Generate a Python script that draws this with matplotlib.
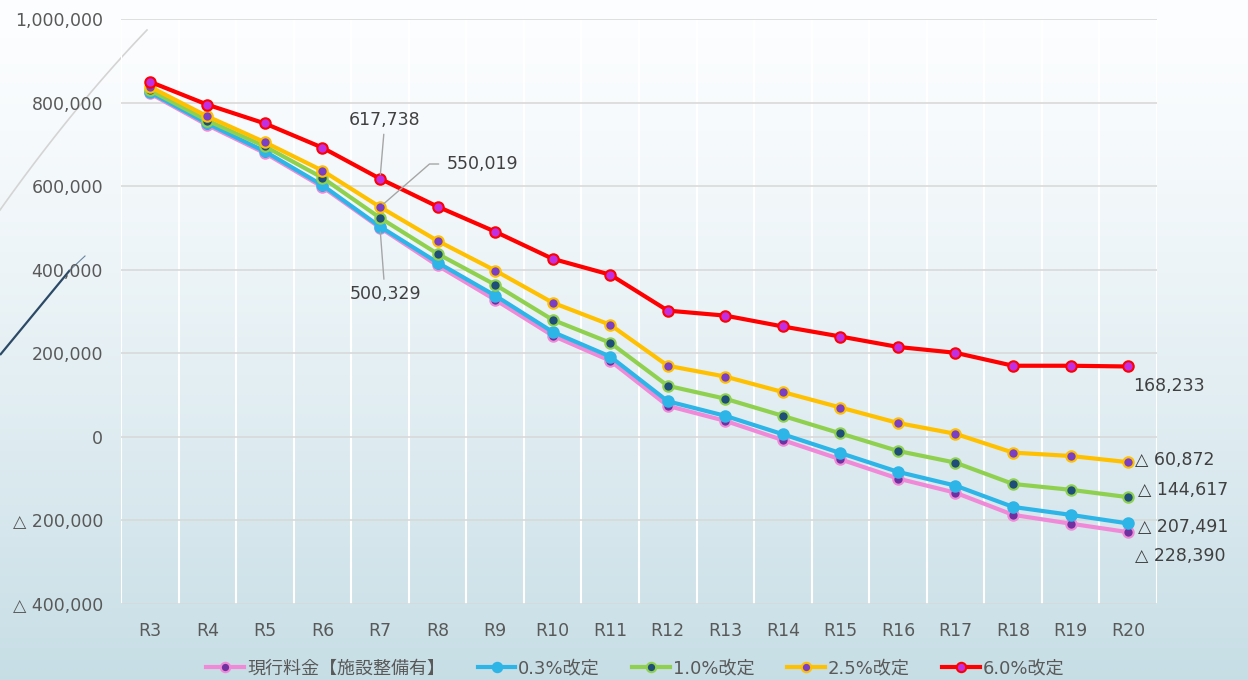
import matplotlib
matplotlib.use('Agg')
import matplotlib.pyplot as plt
import numpy as np
from matplotlib.ticker import FuncFormatter

plt.rcParams['font.family'] = ['DejaVu Sans', 'Noto Sans CJK JP']

categories = ['R3', 'R4', 'R5', 'R6', 'R7', 'R8', 'R9', 'R10', 'R11', 'R12',
              'R13', 'R14', 'R15', 'R16', 'R17', 'R18', 'R19', 'R20']

current = [822000, 746000, 679000, 598000, 500329, 410000, 328000, 242000, 182000,
           74000, 38000, -8000, -54000, -100000, -134000, -187000, -208000, -228390]
rate03 = [825000, 750000, 683000, 602000, 503000, 417000, 338000, 251000, 192000,
          85000, 50000, 6000, -39000, -84000, -117000, -168000, -187000, -207491]
rate10 = [830000, 757000, 695000, 620000, 524000, 438000, 364000, 280000, 225000,
          122000, 91000, 50000, 8000, -34000, -62000, -113000, -127000, -144617]
rate25 = [838000, 767000, 705000, 637000, 550019, 469000, 398000, 321000, 268000,
          170000, 144000, 107000, 70000, 33000, 7000, -38000, -46000, -60872]
rate60 = [850000, 795000, 750000, 692000, 617738, 551000, 491000, 426000, 388000,
          302000, 290000, 264000, 240000, 215000, 201000, 170000, 170000, 168233]

series_names = ['現行料金【施設整備有】', '0.3%改定', '1.0%改定', '2.5%改定', '6.0%改定']
series_values = [current, rate03, rate10, rate25, rate60]
line_colors = ['#f08ad8', '#2db5e8', '#8fd14f', '#ffc000', '#ff0000']
marker_faces = ['#7030a0', '#2db5e8', '#1f4e79', '#7b3fc4', '#c030e0']


def fmt(v):
    if v < 0:
        return '△ {:,.0f}'.format(abs(v))
    return '{:,.0f}'.format(v)


fig = plt.figure(figsize=(12.48, 6.8), dpi=100)

# background gradient
bg = fig.add_axes([0, 0, 1, 1], zorder=-10)
grad = np.linspace(0, 1, 256).reshape(-1, 1)
top = np.array([0.99, 0.995, 1.0])
bottom = np.array([0.78, 0.87, 0.90])
img = top + (bottom - top) * grad[:, :, None] ** 1.3
bg.imshow(img, aspect='auto', extent=[0, 1248, 680, 0])
# decorative curves (pixel coords)
t = np.linspace(0, 1, 50)
bg.plot(147 * t, 210 - 180 * (t + 0.15 * t * (1 - t)), color='#d4d4d4', lw=1.2)
bg.plot([0, 70], [355, 270], color='#2c4a66', lw=1.6, solid_capstyle='butt')
bg.plot([70, 85], [270, 256], color='#6a86a0', lw=0.8)
bg.set_xlim(0, 1248)
bg.set_ylim(680, 0)
bg.axis('off')

ax = fig.add_axes([0.097, 0.112, 0.830, 0.860])
ax.patch.set_alpha(0)
x = np.arange(len(categories))

for name, vals, lc, mf in zip(series_names, series_values, line_colors, marker_faces):
    ax.plot(x, vals, color=lc, lw=3, marker='o', markersize=7.5,
            markerfacecolor=mf, markeredgecolor=lc, markeredgewidth=1.5,
            label=name, zorder=3)

ax.set_xlim(-0.5, len(categories) - 0.5)
ax.set_ylim(-400000, 1000000)
ax.set_yticks(np.arange(-400000, 1000001, 200000))
ax.yaxis.set_major_formatter(FuncFormatter(lambda v, p: fmt(v)))
ax.set_xticks(x)
ax.set_xticklabels(categories)
ax.set_xticks(np.arange(-0.5, len(categories), 1), minor=True)
ax.tick_params(which='both', length=0, labelsize=12.5, colors='#595959')
ax.tick_params(axis='x', pad=13)
ax.tick_params(axis='y', pad=13)
ax.grid(axis='y', which='major', color='#d9d9d9', lw=1.2)
ax.grid(axis='x', which='minor', color='white', lw=1.5)
ax.grid(axis='x', which='major', visible=False)
ax.set_axisbelow(True)
for s in ax.spines.values():
    s.set_visible(False)

lab = dict(fontsize=12.5, color='#404040', textcoords='offset pixels')
i7 = categories.index('R7')
ax.annotate(fmt(rate60[i7]), (i7, rate60[i7]), xytext=(5, 59), ha='center', va='center',
            arrowprops=dict(arrowstyle='-', color='#a6a6a6', lw=1, shrinkA=2, shrinkB=3), **lab)
ax.annotate(fmt(rate25[i7]), (i7, rate25[i7]), xytext=(67, 43), ha='left', va='center',
            arrowprops=dict(arrowstyle='-', color='#a6a6a6', lw=1, shrinkA=4, shrinkB=3,
                            relpos=(0, 0.5),
                            connectionstyle='angle,angleA=180,angleB=41,rad=0'), **lab)
ax.annotate(fmt(current[i7]), (i7, current[i7]), xytext=(5, -66), ha='center', va='center',
            arrowprops=dict(arrowstyle='-', color='#a6a6a6', lw=1, shrinkA=2, shrinkB=3), **lab)

n = len(categories) - 1
ax.annotate(fmt(rate60[n]), (n, rate60[n]), xytext=(5, -20), ha='left', va='center', **lab)
ax.annotate(fmt(rate25[n]), (n, rate25[n]), xytext=(7, 2), ha='left', va='center', **lab)
ax.annotate(fmt(rate10[n]), (n, rate10[n]), xytext=(10, 7), ha='left', va='center', **lab)
ax.annotate(fmt(rate03[n]), (n, rate03[n]), xytext=(10, -4), ha='left', va='center', **lab)
ax.annotate(fmt(current[n]), (n, current[n]), xytext=(7, -24), ha='left', va='center', **lab)

leg = fig.legend(loc='center', bbox_to_anchor=(0.509, 0.017), ncol=5, frameon=False,
                 fontsize=13, handlelength=2.1, columnspacing=1.8, handletextpad=0.15,
                 labelcolor='#595959', markerscale=0.9)

fig.savefig('out.png', dpi=100)
